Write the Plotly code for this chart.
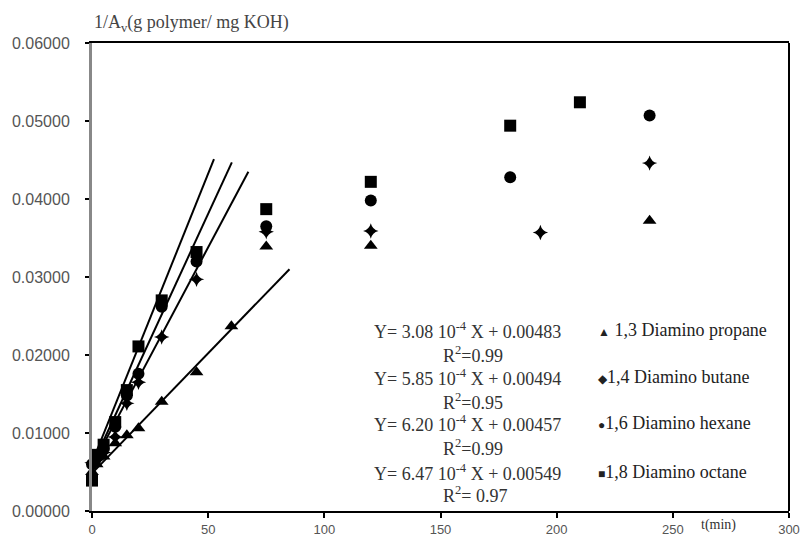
import plotly.graph_objects as go

# ---- data ----
t_octane = [0, 2, 5, 10, 15, 20, 30, 45, 75, 120, 180, 210]
y_octane = [0.0039, 0.0072, 0.0085, 0.0114, 0.0155, 0.0211, 0.0270, 0.0332, 0.0387, 0.0422, 0.0494, 0.0524]

t_hexane = [0, 2, 5, 10, 15, 20, 30, 45, 75, 120, 180, 240]
y_hexane = [0.0060, 0.0068, 0.0080, 0.0108, 0.0148, 0.0176, 0.0262, 0.0320, 0.0365, 0.0398, 0.0428, 0.0507]

t_butane = [0, 2, 5, 10, 15, 20, 30, 45, 75, 120, 193, 240]
y_butane = [0.0062, 0.0066, 0.0075, 0.0095, 0.0138, 0.0165, 0.0223, 0.0297, 0.0358, 0.0359, 0.0357, 0.0446]

t_propane = [0, 2, 5, 10, 15, 20, 30, 45, 60, 75, 120, 240]
y_propane = [0.0050, 0.0060, 0.0070, 0.0087, 0.0097, 0.0106, 0.0140, 0.0178, 0.0237, 0.0339, 0.0340, 0.0372]

# fitted lines as drawn (end points)
fit_octane_t = [0, 52.5]
fit_octane_y = [0.0062, 0.0451]
fit_hexane_t = [0, 60.2]
fit_hexane_y = [0.0058, 0.0447]
fit_butane_t = [0, 67.3]
fit_butane_y = [0.0058, 0.0435]
fit_propane_t = [0, 85]
fit_propane_y = [0.00483, 0.0310]

x_ticks = [0, 50, 100, 150, 200, 250, 300]
y_ticks = [0.0, 0.01, 0.02, 0.03, 0.04, 0.05, 0.06]
y_tick_text = ["0.00000", "0.01000", "0.02000", "0.03000", "0.04000", "0.05000", "0.06000"]

eq_lines = ["Y= 3.08 10<sup>-4</sup> X + 0.00483",
            "Y= 5.85 10<sup>-4</sup> X + 0.00494",
            "Y= 6.20 10<sup>-4</sup> X + 0.00457",
            "Y= 6.47 10<sup>-4</sup> X + 0.00549"]
r2_lines = ["R<sup>2</sup>=0.99", "R<sup>2</sup>=0.95", "R<sup>2</sup>=0.99", "R<sup>2</sup>= 0.97"]
legend_symbols = ["▲", "◆", "●", "■"]
legend_names = [" 1,3 Diamino propane", "1,4 Diamino butane", "1,6 Diamino hexane", "1,8 Diamino octane"]

fig = go.Figure()

for tx, ty in [(fit_octane_t, fit_octane_y), (fit_hexane_t, fit_hexane_y),
               (fit_butane_t, fit_butane_y), (fit_propane_t, fit_propane_y)]:
    fig.add_trace(go.Scatter(x=tx, y=ty, mode="lines",
                             line=dict(color="black", width=2), showlegend=False,
                             hoverinfo="skip"))

series = [
    (t_propane, y_propane, "triangle-up", 12),
    (t_butane, y_butane, "star-diamond", 11),
    (t_hexane, y_hexane, "circle", 12),
    (t_octane, y_octane, "square", 12),
]
for tx, ty, sym, sz in series:
    fig.add_trace(go.Scatter(x=tx, y=ty, mode="markers", cliponaxis=False,
                             marker=dict(symbol=sym, size=sz, color="black",
                                         line=dict(width=0)),
                             showlegend=False))

L, R, T, B = 92, 17, 43, 28
W, H = 806, 539
pw, ph = W - L - R, H - T - B


def px(x):
    return (x - L) / pw


def py(y):
    return (H - B - y) / ph


annotations = []
rows_y = [330, 377, 423, 472]
r2_y = [354, 401, 447, 494]
serif = "Liberation Serif, Times New Roman, serif"
for i in range(4):
    annotations.append(dict(x=px(372), y=py(rows_y[i]), xref="paper", yref="paper",
                            text=eq_lines[i], showarrow=False, xanchor="left", yanchor="middle",
                            font=dict(family=serif, size=18, color="#333333")))
    annotations.append(dict(x=px(441), y=py(r2_y[i]), xref="paper", yref="paper",
                            text=r2_lines[i], showarrow=False, xanchor="left", yanchor="middle",
                            font=dict(family=serif, size=18, color="#333333")))
    annotations.append(dict(x=px(596), y=py(rows_y[i]), xref="paper", yref="paper",
                            text=('<span style="font-size:12px">' + legend_symbols[i] + '</span>'
                                  + legend_names[i]),
                            showarrow=False, xanchor="left", yanchor="middle",
                            font=dict(family=serif, size=18, color="#222222")))

annotations.append(dict(x=0, y=py(24), xref="paper", yref="paper",
                        text="1/A<sub>v</sub>(g polymer/ mg KOH)", showarrow=False,
                        xanchor="left", yanchor="middle",
                        font=dict(family=serif, size=18, color="#444444")))
annotations.append(dict(x=px(718), y=py(525), xref="paper", yref="paper",
                        text="t(min)", showarrow=False, xanchor="center", yanchor="middle",
                        font=dict(family=serif, size=14, color="#333333")))

fig.update_layout(
    width=W, height=H,
    margin=dict(l=L, r=R, t=T, b=B),
    paper_bgcolor="white", plot_bgcolor="white",
    showlegend=False,
    annotations=annotations,
    shapes=[dict(type="line", xref="paper", yref="paper", x0=1, x1=1, y0=0, y1=1,
                 line=dict(color="black", width=2))],
    xaxis=dict(range=[0, 300], tickvals=x_ticks, ticktext=[str(v) for v in x_ticks],
               showgrid=False, zeroline=False, showline=True, linecolor="black",
               linewidth=2, mirror=True, ticks="outside", ticklen=5, tickwidth=2,
               tickcolor="black", ticklabelstandoff=0, automargin=False,
               tickfont=dict(family="Liberation Sans, Arial, sans-serif", size=13, color="#555555")),
    yaxis=dict(range=[0, 0.06], tickvals=y_ticks, ticktext=y_tick_text,
               showgrid=False, zeroline=False, showline=True, linecolor="#888888",
               linewidth=3, ticks="outside", ticklen=4, tickwidth=2, tickcolor="black",
               ticklabelstandoff=12, automargin=False,
               tickfont=dict(family="Liberation Sans, Arial, sans-serif", size=16, color="#555555")),
)

fig.write_html("out.html")
